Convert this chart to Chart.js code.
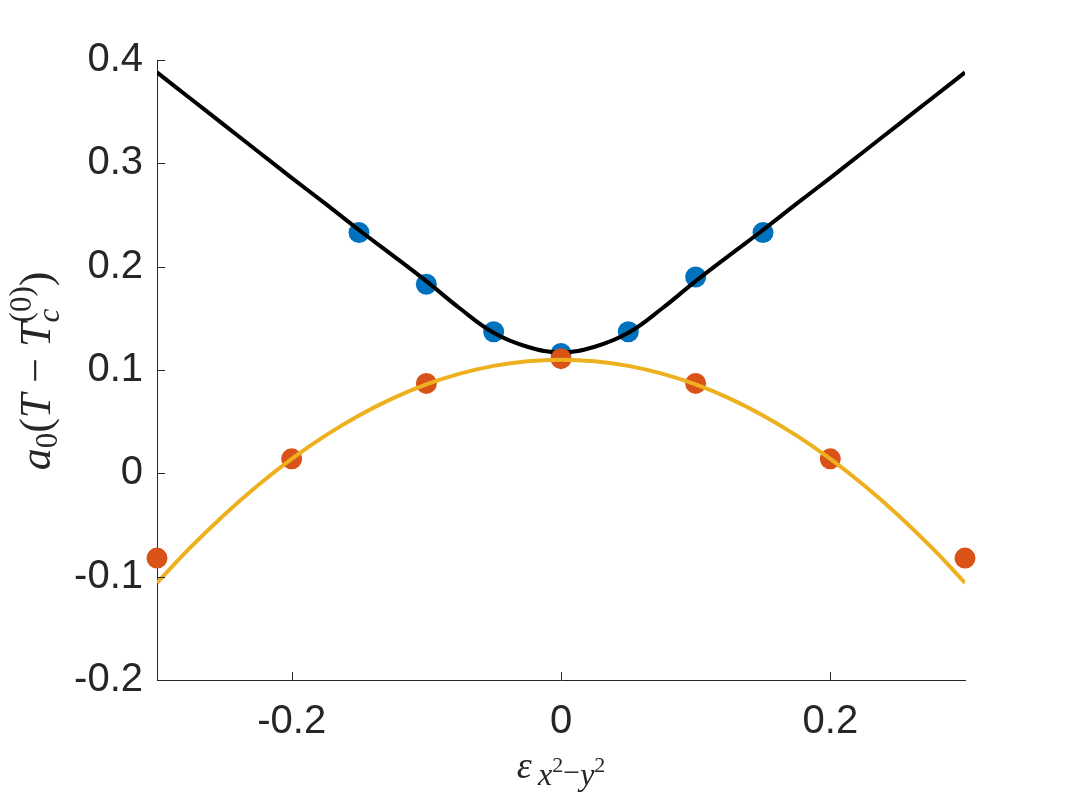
<!DOCTYPE html>
<html>
<head>
<meta charset="utf-8">
<script src="https://cdn.jsdelivr.net/npm/chart.js@4/dist/chart.umd.min.js"></script>
<style>
  body { margin: 0; background: #fff; }
  canvas { display: block; }
</style>
</head>
<body>
<canvas id="gapChart" width="1067" height="800"></canvas>
<script>
// data
const xTickValues = [-0.2, 0, 0.2];
const xTickLabels = ['-0.2', '0', '0.2'];
const yTickValues = [-0.2, -0.1, 0, 0.1, 0.2, 0.3, 0.4];
const yTickLabels = ['-0.2', '-0.1', '0', '0.1', '0.2', '0.3', '0.4'];

// blue dots
const upperX = [-0.15, -0.1, -0.05, 0, 0.05, 0.1, 0.15];
const upperY = [0.233, 0.183, 0.137, 0.116, 0.137, 0.190, 0.233];

// orange dots
const lowerX = [-0.3, -0.2, -0.1, 0, 0.1, 0.2, 0.3];
const lowerY = [-0.082, 0.014, 0.087, 0.111, 0.087, 0.014, -0.082];

// fitted curves (black and yellow)
const curveX = [-0.3, -0.275, -0.25, -0.225, -0.2, -0.175, -0.15, -0.125, -0.1, -0.075, -0.05, -0.025,
  0, 0.025, 0.05, 0.075, 0.1, 0.125, 0.15, 0.175, 0.2, 0.225, 0.25, 0.275, 0.3];
const blackCurve = [0.388, 0.3625, 0.337, 0.3115, 0.286, 0.261, 0.2355, 0.211, 0.186, 0.1595, 0.136, 0.1225,
  0.117, 0.1225, 0.136, 0.1595, 0.186, 0.211, 0.2355, 0.261, 0.286, 0.3115, 0.337, 0.3625, 0.388];
const yellowCurve = [-0.106, -0.0715, -0.040, -0.0115, 0.014, 0.0365, 0.056, 0.0725, 0.086, 0.0965, 0.104, 0.1085,
  0.110, 0.1085, 0.104, 0.0965, 0.086, 0.0725, 0.056, 0.0365, 0.014, -0.0115, -0.040, -0.0715, -0.106];

const toPoints = (xs, ys) => xs.map((x, i) => ({ x: x, y: ys[i] }));

const TEXT = '#262626';
const SERIF = '"Liberation Serif", "DejaVu Serif", serif';

// draws a row of text pieces (for sub/superscripts), centred on cx
function drawPieces(ctx, pieces, cx, baseY) {
  const widths = [];
  let x = 0;
  pieces.forEach(p => {
    ctx.font = p.font;
    const w = ctx.measureText(p.t).width;
    widths.push(w);
    if (p.stack) {
      const prev = widths[widths.length - 2];
      x = x - prev + Math.max(prev, w);
    } else {
      x += w;
    }
  });
  x = cx - x / 2;
  let prevStart = x;
  pieces.forEach((p, i) => {
    ctx.font = p.font;
    const start = p.stack ? prevStart : x;
    ctx.fillText(p.t, start, baseY + (p.dy || 0));
    if (p.stack) {
      x = prevStart + Math.max(widths[i - 1], widths[i]);
    } else {
      prevStart = start;
      x = start + widths[i];
    }
  });
}

const axisExtras = {
  id: 'axisExtras',
  afterDraw(chart) {
    const ctx = chart.ctx;
    const area = chart.chartArea;
    const xs = chart.scales.x, ys = chart.scales.y;
    ctx.save();
    // inward tick marks
    ctx.strokeStyle = TEXT;
    ctx.lineWidth = 1;
    ctx.beginPath();
    yTickValues.forEach(v => {
      const py = Math.round(ys.getPixelForValue(v)) + 0.5;
      ctx.moveTo(area.left, py);
      ctx.lineTo(area.left + 8, py);
    });
    xTickValues.forEach(v => {
      const px = Math.round(xs.getPixelForValue(v)) + 0.5;
      ctx.moveTo(px, area.bottom);
      ctx.lineTo(px, area.bottom - 8);
    });
    ctx.stroke();

    ctx.fillStyle = TEXT;
    ctx.textBaseline = 'alphabetic';
    ctx.textAlign = 'left';

    // x axis label
    drawPieces(ctx, [
      { t: '\u03B5', font: 'italic 38px ' + SERIF },
      { t: '\u2009x', font: 'italic 32px ' + SERIF, dy: 7 },
      { t: '2', font: '22px ' + SERIF, dy: -6 },
      { t: '\u2212', font: '30px ' + SERIF, dy: 4 },
      { t: 'y', font: 'italic 32px ' + SERIF, dy: 7 },
      { t: '2', font: '22px ' + SERIF, dy: -6 }
    ], (area.left + area.right) / 2, 778);

    // y axis label, rotated
    ctx.translate(50, 371);
    ctx.rotate(-Math.PI / 2);
    drawPieces(ctx, [
      { t: 'a', font: 'italic 44px ' + SERIF },
      { t: '0', font: '31px ' + SERIF, dy: 7 },
      { t: '(', font: '44px ' + SERIF },
      { t: 'T', font: 'italic 44px ' + SERIF },
      { t: ' \u2212 ', font: '44px ' + SERIF },
      { t: 'T', font: 'italic 44px ' + SERIF },
      { t: 'c', font: 'italic 31px ' + SERIF, dy: 9 },
      { t: '(0)', font: '31px ' + SERIF, dy: -19, stack: true },
      { t: ')', font: '44px ' + SERIF }
    ], 0, 0);
    ctx.restore();
  }
};

new Chart(document.getElementById('gapChart'), {
  type: 'scatter',
  data: {
    datasets: [
      {
        label: 'upper points',
        data: toPoints(upperX, upperY),
        backgroundColor: '#0072BD',
        borderWidth: 0,
        pointRadius: 10.5,
        clip: false,
        order: 4
      },
      {
        label: 'upper curve',
        data: toPoints(curveX, blackCurve),
        showLine: true,
        borderColor: '#000000',
        borderWidth: 4,
        pointRadius: 0,
        tension: 0.4,
        order: 3
      },
      {
        label: 'lower points',
        data: toPoints(lowerX, lowerY),
        backgroundColor: '#D95319',
        borderWidth: 0,
        pointRadius: 10.5,
        clip: false,
        order: 2
      },
      {
        label: 'lower curve',
        data: toPoints(curveX, yellowCurve),
        showLine: true,
        borderColor: '#EDB120',
        borderWidth: 4,
        pointRadius: 0,
        tension: 0.4,
        order: 1
      }
    ]
  },
  options: {
    responsive: false,
    animation: false,
    layout: { padding: { top: 60, right: 102, left: 0, bottom: 0 } },
    plugins: { legend: { display: false }, tooltip: { enabled: false } },
    scales: {
      x: {
        type: 'linear',
        min: -0.3,
        max: 0.3,
        afterBuildTicks: s => { s.ticks = xTickValues.map(v => ({ value: v })); },
        afterFit: s => { s.height = 120; },
        ticks: {
          callback: v => xTickLabels[xTickValues.indexOf(v)],
          font: { family: '"Liberation Sans", Arial, sans-serif', size: 40 },
          color: TEXT,
          padding: 18,
          maxRotation: 0,
          autoSkip: false
        },
        grid: { display: true, drawOnChartArea: false, drawTicks: false },
        border: { color: TEXT, width: 1 }
      },
      y: {
        type: 'linear',
        min: -0.2,
        max: 0.4,
        afterBuildTicks: s => { s.ticks = yTickValues.map(v => ({ value: v })); },
        afterFit: s => { s.width = 157; },
        ticks: {
          callback: v => yTickLabels[yTickValues.indexOf(v)],
          font: { family: '"Liberation Sans", Arial, sans-serif', size: 40 },
          color: TEXT,
          padding: 14,
          autoSkip: false
        },
        grid: { display: true, drawOnChartArea: false, drawTicks: false },
        border: { color: TEXT, width: 1 }
      }
    }
  },
  plugins: [axisExtras]
});
</script>
</body>
</html>
